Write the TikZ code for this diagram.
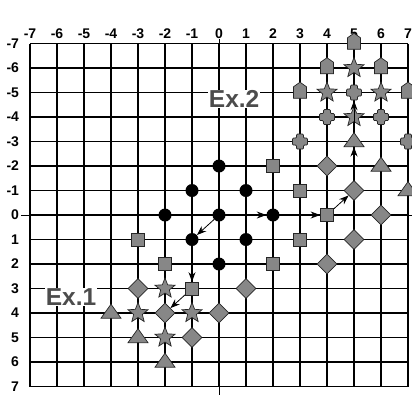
\documentclass[tikz,border=0pt]{standalone}
\usepackage{fontspec}
\setmainfont{Liberation Sans}
\usetikzlibrary{arrows.meta,shapes.geometric,shapes.symbols}
\definecolor{markgray}{gray}{0.53}
\definecolor{exgray}{gray}{0.3}

\begin{document}
\begin{tikzpicture}[
    x=27pt,y=-24.5pt,
    gridline/.style={line width=1.3pt},
    axisline/.style={line width=0.7pt},
    tick label/.style={font=\fontsize{14}{14}\selectfont\bfseries,inner sep=0pt},
    ex label/.style={font=\fontsize{24.5}{24.5}\selectfont\bfseries,text=exgray,fill=white,inner sep=0.5pt},
    marker/.style={draw=black!85,fill=markgray,line width=0.7pt,inner sep=0pt},
    dotmark/.style={circle,fill=black,minimum size=13pt,inner sep=0pt},
    sqmark/.style={marker,rectangle,minimum size=13pt},
    diamark/.style={marker,diamond,minimum size=20pt},
    starmark/.style={marker,star,star points=5,star point ratio=2.3,minimum size=21pt},
    trimark/.style={marker,isosceles triangle,isosceles triangle stretches,
        shape border rotate=90,minimum width=20pt,minimum height=14pt},
    housemark/.style={marker,signal,signal to=north,signal pointer angle=110,
        minimum width=13pt,minimum height=11.5pt},
    crossmark/.style={rectangle,inner sep=0pt,minimum size=16pt,
        path picture={\filldraw[fill=markgray,draw=black!85,line width=0.7pt,rounded corners=1pt]
            ([shift={(-3.5pt,-7.5pt)}]path picture bounding box.center)
            -- ++(7pt,0) -- ++(0,4pt) -- ++(4pt,0) -- ++(0,7pt) -- ++(-4pt,0)
            -- ++(0,4pt) -- ++(-7pt,0) -- ++(0,-4pt) -- ++(-4pt,0) -- ++(0,-7pt)
            -- ++(4pt,0) -- cycle;}},
    flow/.style={-{Stealth[length=9.5pt,width=7pt]},line width=0.8pt}
]
    \useasboundingbox (-8.111,-8.776) rectangle (7.148,7.429);

    % Lattice with the two axes through the origin.
    \foreach \i in {-7,...,7} {
        \draw[gridline] (\i,-7) -- (\i,7);
        \draw[gridline] (-7,\i) -- (7,\i);
        \node[tick label] (top\i) at (\i,-7.39) {\i};
        \node[tick label,anchor=east] (left\i) at (-7.4,\i) {\i};
    }
    \draw[axisline] (0,-7.18) -- (0,7.35);
    \draw[axisline] (-7.33,0) -- (7.2,0);

    % Core of black dots around the origin.
    \foreach \x/\y in {0/-2,-1/-1,1/-1,-2/0,0/0,2/0,-1/1,1/1,0/2}
        \node[dotmark] (dot\x\y) at (\x,\y) {};

    \foreach \x/\y in {-3/1,-2/2,-1/3,2/-2,3/-1,4/0,3/1,2/2}
        \node[sqmark] (sq\x\y) at (\x,\y) {};
    \foreach \x/\y in {-3/3,-2/4,-1/5,0/4,1/3,4/2,5/1,6/0,5/-1,4/-2}
        \node[diamark] (dia\x\y) at (\x,\y) {};
    \foreach \x/\y in {-2/3,-3/4,-1/4,-2/5,5/-6,4/-5,6/-5,5/-4}
        \node[starmark] (star\x\y) at (\x,\y) {};
    \foreach \x/\y in {-4/4,-3/5,-2/6,5/-3,6/-2,7/-1}
        \node[trimark] (tri\x\y) at (\x,\y) {};
    \foreach \x/\y in {5/-7,4/-6,6/-6,3/-5,7/-5}
        \node[housemark] (house\x\y) at (\x,\y) {};
    \foreach \x/\y in {5/-5,4/-4,6/-4,3/-3,7/-3}
        \node[crossmark] (cross\x\y) at (\x,\y) {};

    \node[ex label] (ex1) at (-5.48,3.35) {Ex.1};
    \node[ex label] (ex2) at (0.56,-4.73) {Ex.2};

    % Ex.1 path
    \draw[flow] (dot00) -- (dot-11);
    \draw[flow] (dot-11) -- (sq-13);
    \draw[flow] (sq-13) -- (dia-24);
    % Ex.2 path
    \draw[flow] (dot00) -- (dot20);
    \draw[flow] (dot20) -- (sq40);
    \draw[flow] (sq40) -- (dia5-1);
    \draw[flow] (dia5-1) -- (tri5-3);
    \draw[flow] (tri5-3) -- (cross5-5);
\end{tikzpicture}
\end{document}
